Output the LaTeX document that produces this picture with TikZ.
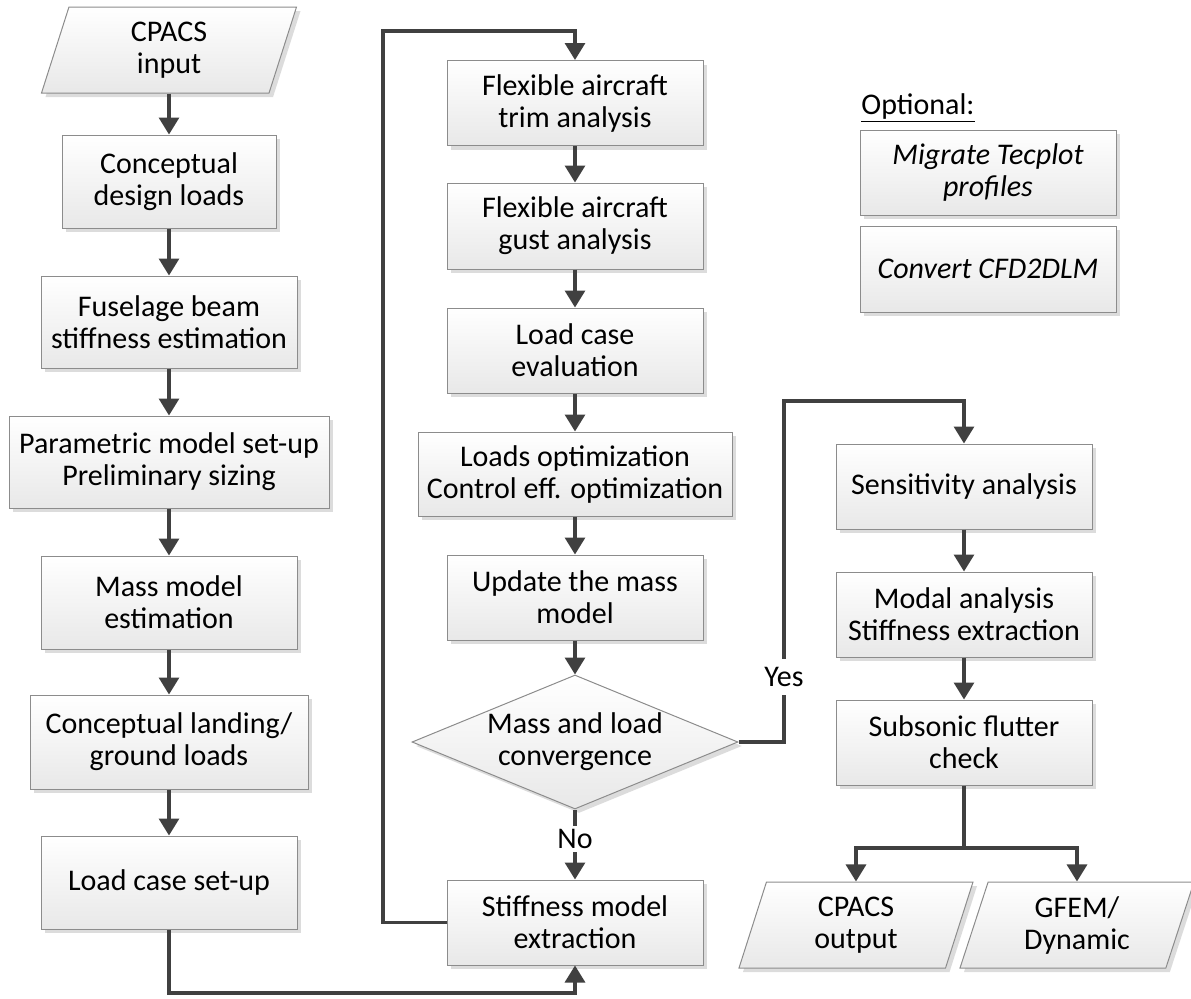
\documentclass[tikz,border=0pt]{standalone}
\usepackage{fontspec}
\setmainfont{Carlito}
\usetikzlibrary{shapes.geometric,arrows.meta,shadows}

\begin{document}
\begin{tikzpicture}[x = 0.5pt,
                    y = -0.5pt,
                    font = \fontsize{15pt}{16pt}\selectfont,
                    color = {black}]
% style of boxes and connectors
\tikzset{procbox/.style={rectangle,draw=black!45,line width=0.5pt,top color=white,bottom color=black!9,
  drop shadow={shadow xshift=2pt,shadow yshift=-2pt,fill=black!30,opacity=.45},
  align=center,inner sep=0pt,minimum width=128pt,minimum height=42.5pt}}
\tikzset{iobox/.style={procbox,trapezium,trapezium left angle=64,trapezium right angle=116,
  trapezium stretches body,minimum width=127.5pt,minimum height=43pt}}
\tikzset{flow/.style={draw=black!75,line width=1.6pt,-{Triangle[width=10pt,length=8.5pt]}}}
\tikzset{tag/.style={fill=white,inner sep=1.5pt}}
% frame
\useasboundingbox (0,0) rectangle (1191,998);
% coordinates
\coordinate (loop) at (383,31);
\coordinate (bot) at (169,993);
\coordinate (yes) at (784,401);
\coordinate (split) at (964,848);

%left column
\node[iobox] (cin) at (169,50) {CPACS\\input};
\node[procbox,minimum width=107pt,minimum height=46.5pt] (cdl) at (169,181.5) {Conceptual\\design loads};
\node[procbox,minimum height=46pt] (fbs) at (169,322) {Fuselage beam\\stiffness estimation};
\node[procbox,minimum width=160pt,minimum height=46pt] (pms) at (169,462) {Parametric model set-up\\Preliminary sizing};
\node[procbox,minimum height=46.5pt] (mme) at (169,602.5) {Mass model\\estimation};
\node[procbox,minimum width=139pt,minimum height=47pt] (clg) at (169,742) {Conceptual landing/\\ground loads};
\node[procbox,minimum height=46.5pt] (lcs) at (169,882.5) {Load case set-up};

%middle column
\node[procbox] (fat) at (575,103) {Flexible aircraft\\trim analysis};
\node[procbox,minimum height=43pt] (fag) at (575,226) {Flexible aircraft\\gust analysis};
\node[procbox] (lce) at (575,350.5) {Load case\\evaluation};
\node[procbox,minimum width=157pt,minimum height=42pt] (lop) at (575,474) {Loads optimization\\Control eff. optimization};
\node[procbox] (umm) at (575,597.5) {Update the mass\\model};
\node[procbox,diamond,aspect=2.43,minimum width=163pt,minimum height=67pt] (dia) at (575,742) {Mass and load\\convergence};
\node[procbox] (sme) at (575,922.5) {Stiffness model\\extraction};

%right column
\node[procbox] (sen) at (964,486.5) {Sensitivity analysis};
\node[procbox] (mod) at (964,614.5) {Modal analysis\\Stiffness extraction};
\node[procbox] (flu) at (964,742.5) {Subsonic flutter\\check};
\node[iobox,minimum width=117pt] (cout) at (856,925) {CPACS\\output};
\node[iobox,minimum width=117pt] (gfem) at (1077,925) {GFEM/\\Dynamic};

%optional
\node (opt) at (918,108) {\underline{Optional:}};
\node[procbox,font=\fontsize{15pt}{16pt}\selectfont\itshape] (mtp) at (988,172.5) {Migrate Tecplot\\profiles};
\node[procbox,minimum height=43pt,font=\fontsize{15pt}{16pt}\selectfont\itshape] (ccd) at (988,269) {Convert CFD2DLM};

%connectors
\draw[flow] (cin.center |- cin.south) -- (cdl.north);
\draw[flow] (cdl.south) -- (fbs.north);
\draw[flow] (fbs.south) -- (pms.north);
\draw[flow] (pms.south) -- (mme.north);
\draw[flow] (mme.south) -- (clg.north);
\draw[flow] (clg.south) -- (lcs.north);
\draw[flow] (lcs.south) -- (bot) -| (sme.south);
\draw[flow] (sme.west) -| (loop) -| (fat.north);
\draw[flow] (fat.south) -- (fag.north);
\draw[flow] (fag.south) -- (lce.north);
\draw[flow] (lce.south) -- (lop.north);
\draw[flow] (lop.south) -- (umm.north);
\draw[flow] (umm.south) -- (dia.north);
\draw[flow] (dia.south) -- (sme.north);
\draw[flow] (dia.east) -| (yes) -| (sen.north);
\draw[flow] (sen.south) -- (mod.north);
\draw[flow] (mod.south) -- (flu.north);
\draw[flow] (flu.south) -- (split) -| (cout.center |- cout.north);
\draw[flow] (split) -| (gfem.center |- gfem.north);
%labels
\node[tag] (nolbl) at (575,839) {No};
\node[tag,inner ysep=4pt] (yeslbl) at (784,677) {Yes};
\end{tikzpicture}
\end{document}
